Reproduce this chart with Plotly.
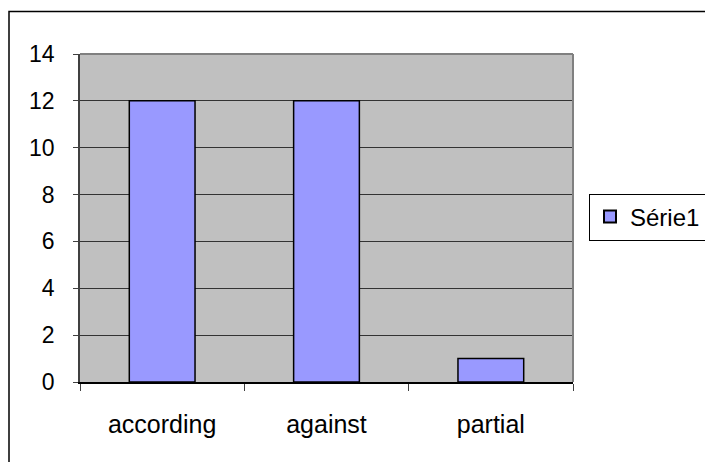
import plotly.graph_objects as go

# Response counts per position
categories = ["according", "against", "partial"]
values = [12, 12, 1]
series_name = "Série1"
y_ticks = [0, 2, 4, 6, 8, 10, 12, 14]

W, H = 705, 462
L, R, T, B = 80, 573, 54, 382  # plot area in pixels
pw, ph = R - L, B - T

def px_x(x):
    return (x - L) / pw

def px_y(y):
    return (B - y) / ph

font = dict(family="Arial, Liberation Sans, sans-serif", size=23, color="black")

fig = go.Figure(
    go.Bar(
        x=categories,
        y=values,
        name=series_name,
        marker=dict(color="#9999FF", line=dict(color="black", width=1.5)),
        showlegend=True,
    )
)

fig.update_layout(
    width=W,
    height=H,
    margin=dict(l=L, r=W - R, t=T, b=H - B, pad=0, autoexpand=False),
    paper_bgcolor="white",
    plot_bgcolor="#C0C0C0",
    bargap=0.6,
    font=font,
    showlegend=True,
    legend=dict(
        xref="container",
        yref="container",
        x=589 / W,
        y=1 - 217 / H,
        xanchor="left",
        yanchor="middle",
        bordercolor="black",
        borderwidth=1,
        bgcolor="white",
        font=dict(family=font["family"], size=24, color="black"),
        itemsizing="constant",
    ),
    xaxis=dict(
        type="category",
        showline=True,
        linecolor="black",
        linewidth=1.5,
        ticks="outside",
        tickson="boundaries",
        ticklen=7,
        tickcolor="#404040",
        showgrid=False,
        tickfont=dict(size=25),
        ticklabelstandoff=19,
        fixedrange=True,
    ),
    yaxis=dict(
        range=[0, 14],
        tickvals=y_ticks,
        showline=True,
        linecolor="#404040",
        linewidth=1.5,
        ticks="outside",
        ticklen=5,
        tickcolor="#404040",
        showgrid=True,
        gridcolor="#333333",
        gridwidth=1,
        zeroline=False,
        tickfont=dict(size=23),
        ticklabelstandoff=14,
        fixedrange=True,
    ),
    shapes=[
        # gray frame on top and right of the plot area
        dict(type="line", xref="paper", yref="paper", x0=0, x1=1, y0=1, y1=1,
             line=dict(color="#808080", width=2)),
        dict(type="line", xref="paper", yref="paper", x0=1, x1=1, y0=0, y1=1,
             line=dict(color="#808080", width=2)),
        # chart area border
        dict(type="rect", xref="paper", yref="paper",
             x0=px_x(9), x1=px_x(W + 20), y0=px_y(H + 20), y1=px_y(11.5),
             line=dict(color="black", width=1.5), layer="below"),
    ],
)

fig.write_html("out.html")
